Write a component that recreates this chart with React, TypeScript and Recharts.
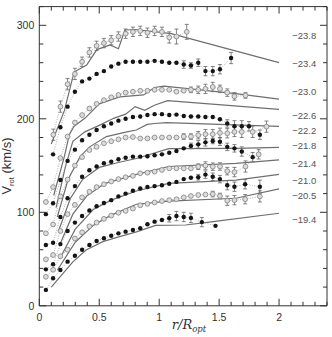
import React from 'react'
import { ComposedChart, Scatter, XAxis, YAxis, ErrorBar, Label } from 'recharts'

type P = number[]

// observed rotation curves, [r/Ropt, Vrot, error] — one per magnitude bin
const OBS_238: P[] = [[0.117,183,6],[0.176,213,6],[0.236,237,6],[0.297,248,6],[0.357,261,5],[0.418,271,5],[0.478,278,5],[0.539,281,5],[0.6,284,5],[0.66,288,5],[0.72,291,5],[0.781,293,5],[0.842,294,5],[0.902,292,5],[0.962,294,5],[1.023,293,5],[1.084,287,6],[1.144,288,8],[1.23,293,8]]
const OBS_234: P[] = [[0.115,162],[0.176,191],[0.236,213],[0.297,229],[0.357,240],[0.418,243],[0.478,248],[0.539,251],[0.6,256],[0.66,259],[0.72,261],[0.781,261],[0.842,261],[0.902,261],[0.962,262],[1.023,261],[1.084,260],[1.144,260],[1.205,258,4],[1.265,257,3],[1.326,260,4],[1.386,251,5],[1.447,251,5],[1.507,253,5],[1.6,265,6]]
const OBS_230: P[] = [[0.055,111],[0.115,127],[0.176,158],[0.236,181],[0.297,196],[0.357,204],[0.418,211],[0.478,216],[0.539,220],[0.6,223],[0.66,225.5],[0.72,228],[0.781,229],[0.842,230],[0.902,230],[0.962,231],[1.023,231],[1.084,231],[1.144,229],[1.205,230],[1.265,231,3],[1.326,231,4],[1.386,232,5],[1.447,234,5],[1.507,232,4],[1.568,228,4],[1.628,224,4],[1.72,225,3]]
const OBS_226: P[] = [[0.055,98],[0.115,109.6],[0.176,134.5],[0.236,155],[0.297,167],[0.357,177],[0.418,183],[0.478,188],[0.539,192],[0.6,195],[0.66,198],[0.72,200],[0.781,202],[0.842,202.5],[0.902,204],[0.962,205],[1.023,205],[1.084,204],[1.144,204.5],[1.205,203],[1.265,202.5],[1.326,202.5],[1.386,202],[1.447,202],[1.507,199.5],[1.568,195,4],[1.628,192,6],[1.689,192,6],[1.749,192,5],[1.84,183,5]]
const OBS_222: P[] = [[0.055,77.5],[0.115,87],[0.176,117],[0.236,135],[0.297,150],[0.357,159],[0.418,166.6],[0.478,170],[0.539,173.8],[0.6,176],[0.66,178],[0.72,180],[0.781,180.5],[0.842,179],[0.902,179],[0.962,180],[1.023,180],[1.084,180],[1.144,180],[1.205,181,3],[1.265,181,3],[1.326,182.5,4],[1.386,183.5,5],[1.447,183.5,5],[1.507,185,5],[1.568,184.5,5],[1.628,186,5],[1.689,186,6],[1.78,186,6],[1.895,191.6,6]]
const OBS_218: P[] = [[0.055,65],[0.115,67.5],[0.176,95],[0.236,115],[0.297,128],[0.357,138],[0.418,145],[0.478,149],[0.539,152.4],[0.6,154],[0.66,156.7],[0.72,158.4],[0.781,159.5],[0.842,159.5],[0.902,160],[0.962,161],[1.023,162],[1.084,163.7],[1.144,165.6],[1.205,168.4],[1.265,171,3],[1.326,172.7,4],[1.386,174.8,4],[1.447,176.3,3],[1.507,175.5,4],[1.568,170,4],[1.628,168.4,4],[1.689,165,5],[1.78,159,5]]
const OBS_214: P[] = [[0.055,49.7],[0.115,54.3],[0.176,80],[0.236,98],[0.297,108],[0.357,116],[0.418,122],[0.478,127],[0.539,130],[0.6,133],[0.66,135.5],[0.72,137.5],[0.781,139],[0.842,141.7],[0.902,142.4],[0.962,143.5],[1.023,145.3],[1.084,147],[1.144,147],[1.205,147],[1.265,147],[1.326,148.8,3],[1.386,150,4],[1.447,148.8,4],[1.507,149,4],[1.568,144,4],[1.628,143,5],[1.72,149,6],[1.83,162,5]]
const OBS_210: P[] = [[0.055,39],[0.115,44.4],[0.176,66],[0.236,80],[0.297,89],[0.357,96],[0.418,102],[0.478,106.5],[0.539,110],[0.6,113],[0.66,117],[0.72,120],[0.781,123],[0.842,125.5],[0.902,127],[0.962,128],[1.023,129],[1.084,130.5],[1.144,132.5],[1.205,135.5],[1.265,137],[1.326,137.5,3],[1.386,140.3,4],[1.447,138,4],[1.507,135.5,4],[1.568,129,5],[1.628,127.4,5],[1.717,130,5],[1.84,127.4,7]]
const OBS_205: P[] = [[0.055,31],[0.115,38.5],[0.176,53],[0.236,60],[0.297,72],[0.357,78.6],[0.418,85],[0.478,89],[0.539,93],[0.6,96.5],[0.66,99.5],[0.72,101.5],[0.781,104],[0.842,107.5],[0.902,109],[0.962,110.5],[1.023,112],[1.084,113],[1.144,114],[1.205,116],[1.265,117.4],[1.326,118.5],[1.386,119],[1.447,119.5,3],[1.507,117.4,3],[1.568,112.4,5],[1.628,113,5],[1.717,114,5],[1.84,117,6]]
const OBS_194: P[] = [[0.055,17],[0.115,29.4],[0.176,38.3],[0.236,47.2],[0.297,53.6],[0.357,60],[0.418,65],[0.478,69.3],[0.539,72.2],[0.6,75],[0.66,77.5],[0.72,79.3],[0.781,81],[0.842,83],[0.902,87.2],[0.962,90],[1.023,91.8],[1.084,93.6,4],[1.144,96,5],[1.205,95,5],[1.265,94,5],[1.356,89.5,5],[1.47,85.5]]

// universal rotation curve, [r/Ropt, Vrot]
const URC_238: P[] = [[0.1,173],[0.21,209],[0.29,250],[0.395,257.5],[0.48,274],[0.59,279],[0.66,275],[0.714,295],[0.8,295.5],[1.1,291],[2.0,260]]
const URC_230: P[] = [[0.12,118],[0.21,160],[0.25,183],[0.29,192],[0.38,200.5],[0.5,216],[0.67,223.5],[0.87,225.5],[0.96,233.5],[1.04,235],[1.64,227],[2.0,221]]
const URC_226: P[] = [[0.14,105],[0.22,150],[0.28,176],[0.38,186],[0.5,193],[0.62,200.5],[0.72,205],[0.8,213],[0.88,209],[0.96,214.5],[1.07,219.5],[2.0,210]]
const URC_222: P[] = [[0.15,95],[0.24,135],[0.34,159.5],[0.42,170],[0.56,181],[0.73,186],[0.81,188],[0.9,194],[0.96,195],[1.06,196],[2.0,192]]
const URC_218: P[] = [[0.16,80],[0.26,115],[0.36,135],[0.5,148],[0.65,153],[0.81,157.5],[1.08,168],[1.64,168.4],[2.0,169.5]]
const URC_214: P[] = [[0.17,65],[0.28,98],[0.4,118],[0.55,131],[0.81,140.6],[1.08,149],[1.64,152.4],[2.0,156]]
const URC_210: P[] = [[0.17,50],[0.3,82],[0.45,103],[0.6,113],[0.81,122.8],[1.08,131],[1.64,134.5],[2.0,140.6]]
const URC_205: P[] = [[0.15,38],[0.3,68],[0.45,86],[0.6,97],[0.81,108.6],[1.08,112],[1.64,115],[2.0,125]]
const URC_194: P[] = [[0.1,20],[0.28,47],[0.39,59.7],[0.53,68.6],[0.67,74],[0.81,79],[0.97,86],[1.22,86.4],[1.45,90],[2.0,99]]

const MAGS = ['−23.8', '−23.4', '−23.0', '−22.6', '−22.2', '−21.8', '−21.4', '−21.0', '−20.5', '−19.4']
const MAG_V = [288.6, 259.4, 229, 204, 187.3, 171.2, 152.4, 134.5, 118.5, 92.5]
const MAG_R = 2.11

const X_TICKS = [0, 0.1, 0.2, 0.3, 0.4, 0.5, 0.6, 0.7, 0.8, 0.9, 1, 1.1, 1.2, 1.3, 1.4, 1.5, 1.6, 1.7, 1.8, 1.9, 2, 2.1, 2.2, 2.3, 2.4]
const X_LABELS = [0, 0.5, 1, 1.5, 2]
const Y_TICKS = [0, 20, 40, 60, 80, 100, 120, 140, 160, 180, 200, 220, 240, 260, 280, 300, 320]
const Y_LABELS = [0, 100, 200, 300]

const OBS = [OBS_238, OBS_234, OBS_230, OBS_226, OBS_222, OBS_218, OBS_214, OBS_210, OBS_205, OBS_194]
const URC = [URC_238, URC_230, URC_226, URC_222, URC_218, URC_214, URC_210, URC_205, URC_194]

const SANS = 'Liberation Sans, Arial, Helvetica, sans-serif'
const INK = '#333'

const toPts = (arr: P[]) => arr.map(([r, v, e]) => ({ r, v, e: e ?? 0 }))
const isLabel = (list: number[], v: number) => list.some((l) => Math.abs(l - v) < 1e-6)

const FilledDot = (p: any) => <circle cx={p.cx} cy={p.cy} r={2.2} fill="#141414" />
const OpenDot = (p: any) => (
  <circle cx={p.cx} cy={p.cy} r={2.4} fill="#dcdcdc" stroke="#8a8a8a" strokeWidth={0.9} />
)
const NoDot = () => <g />
const MagText = (p: any) => (
  <text x={p.cx} y={p.cy + 3.5} fontSize={9.5} fill="#555" fontFamily={SANS}>
    {p.payload.t}
  </text>
)

const BottomTick = ({ x, y, payload }: any) => {
  const v = payload.value
  const major = Math.abs(v * 2 - Math.round(v * 2)) < 1e-6
  return (
    <g>
      <line x1={x} x2={x} y1={y} y2={y - (major ? 7 : 4)} stroke={INK} />
      {isLabel(X_LABELS, v) && (
        <text x={x} y={y + 15} textAnchor="middle" fontSize={10.5} fill={INK} fontFamily={SANS}>
          {String(+v.toFixed(1))}
        </text>
      )}
    </g>
  )
}
const TopTick = ({ x, y, payload }: any) => {
  const v = payload.value
  const major = Math.abs(v * 2 - Math.round(v * 2)) < 1e-6
  return <line x1={x} x2={x} y1={y} y2={y + (major ? 7 : 4)} stroke={INK} />
}
const LeftTick = ({ x, y, payload }: any) => {
  const v = payload.value
  const major = isLabel(Y_LABELS, v)
  return (
    <g>
      <line x1={x} x2={x + (major ? 7 : 4)} y1={y} y2={y} stroke={INK} />
      {major && (
        <text x={x - 5} y={y + 4} textAnchor="end" fontSize={10.5} fill={INK} fontFamily={SANS}>
          {v}
        </text>
      )}
    </g>
  )
}
const RightTick = ({ x, y, payload }: any) => {
  const major = isLabel(Y_LABELS, payload.value)
  return <line x1={x} x2={x - (major ? 7 : 4)} y1={y} y2={y} stroke={INK} />
}

const YTitle = () => (
  <text transform="rotate(-90, 11, 166)" x={11} y={166} textAnchor="middle" fontSize={13} fill={INK} fontFamily={SANS}>
    V
    <tspan fontSize={7.5} dy={2.5}>rot</tspan>
    <tspan dy={-2.5}> (km/s)</tspan>
  </text>
)
const XTitle = () => (
  <text x={189} y={329} textAnchor="middle" fontSize={13} fill={INK} fontFamily="DejaVu Serif, serif" fontStyle="italic">
    r/R
    <tspan fontSize={8.5} dy={3}>opt</tspan>
  </text>
)

export default function App() {
  const labels = MAGS.map((t, i) => ({ r: MAG_R, v: MAG_V[i], t }))
  return (
    <div style={{ position: 'absolute', left: 0, top: 0, background: '#fff' }}>
      <ComposedChart width={332} height={337} margin={{ top: 5.6, right: 4, bottom: 1.2, left: 0 }}>
        <XAxis
          xAxisId={0}
          dataKey="r"
          type="number"
          domain={[0, 2.4]}
          ticks={X_TICKS}
          interval={0}
          height={30}
          tickSize={0}
          tickMargin={0}
          tick={<BottomTick />}
          axisLine={{ stroke: INK }}
          allowDataOverflow
        >
          <Label content={<XTitle />} />
        </XAxis>
        <XAxis
          xAxisId="top"
          orientation="top"
          dataKey="r"
          type="number"
          domain={[0, 2.4]}
          ticks={X_TICKS}
          interval={0}
          height={1}
          tickSize={0}
          tickMargin={0}
          tick={<TopTick />}
          axisLine={{ stroke: INK }}
          allowDataOverflow
        />
        <YAxis
          yAxisId={0}
          dataKey="v"
          type="number"
          domain={[0, 320]}
          ticks={Y_TICKS}
          interval={0}
          width={39.3}
          tickSize={0}
          tickMargin={0}
          tick={<LeftTick />}
          axisLine={{ stroke: INK }}
          allowDataOverflow
        >
          <Label content={<YTitle />} />
        </YAxis>
        <YAxis
          yAxisId="right"
          orientation="right"
          dataKey="v"
          type="number"
          domain={[0, 320]}
          ticks={Y_TICKS}
          interval={0}
          width={1}
          tickSize={0}
          tickMargin={0}
          tick={<RightTick />}
          axisLine={{ stroke: INK }}
          allowDataOverflow
        />

        {URC.map((d, i) => (
          <Scatter
            key={`urc-${i}`}
            data={toPts(d)}
            shape={<NoDot />}
            line={{ stroke: '#6f6f6f', strokeWidth: 1.2 }}
            lineType="joint"
            isAnimationActive={false}
          />
        ))}

        {OBS.map((d, i) => (
          <Scatter
            key={`obs-${i}`}
            data={toPts(d)}
            shape={i % 2 === 0 ? <OpenDot /> : <FilledDot />}
            line={{ stroke: '#9a9a9a', strokeWidth: 0.8, strokeDasharray: '1 1.5' }}
            lineType="joint"
            isAnimationActive={false}
          >
            <ErrorBar dataKey="e" direction="y" width={2} stroke="#666" strokeWidth={0.8} />
          </Scatter>
        ))}

        <Scatter data={labels} shape={<MagText />} isAnimationActive={false} />
      </ComposedChart>
    </div>
  )
}
